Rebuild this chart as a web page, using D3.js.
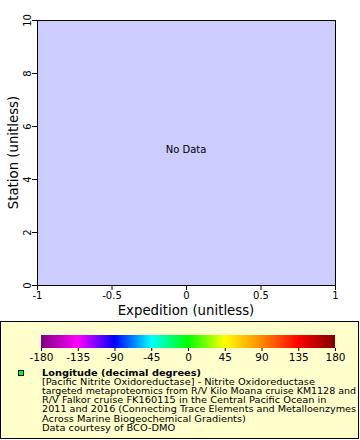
<!DOCTYPE html>
<html><head><meta charset="utf-8">
<script src="https://cdn.jsdelivr.net/npm/d3@7"></script>
<style>body{margin:0;background:#fff}svg{display:block;font-family:"DejaVu Sans",sans-serif}</style>
</head><body><div id="c"></div>
<script>
const xDomain = [-1, 1];
const yDomain = [0, 10];
const xTicks = [-1, -0.5, 0, 0.5, 1];
const yTicks = [0, 2, 4, 6, 8, 10];
const colorTicks = [-180, -135, -90, -45, 0, 45, 90, 135, 180];
const colorStops = ["#800080", "#ff00ff", "#0000ff", "#00ffff", "#00ff00", "#ffff00", "#ff8800", "#ff0000", "#800000"];
const legendTitle = "Longitude (decimal degrees)";
const legendLines = [
  "[Pacific Nitrite Oxidoreductase] - Nitrite Oxidoreductase",
  "targeted metaproteomics from R/V Kilo Moana cruise KM1128 and",
  "R/V Falkor cruise FK160115 in the Central Pacific Ocean in",
  "2011 and 2016 (Connecting Trace Elements and Metalloenzymes",
  "Across Marine Biogeochemical Gradients)",
  "Data courtesy of BCO-DMO"
];

const W = 360, H = 440;
const svg = d3.select("#c").append("svg").attr("width", W).attr("height", H);
const m = {l: 37, r: 335, t: 20, b: 285};
const x = d3.scaleLinear().domain(xDomain).range([m.l, m.r]);
const y = d3.scaleLinear().domain(yDomain).range([m.b, m.t]);
const fmt = d => String(d);

svg.append("rect").attr("x", m.l).attr("y", m.t).attr("width", m.r - m.l).attr("height", m.b - m.t)
  .attr("fill", "#ccccff");

// x axis
const gx = svg.append("g").attr("transform", `translate(0,${m.b})`);
gx.call(d3.axisBottom(x).tickValues(d3.range(-10, 11).map(d => d / 10)).tickSize(3).tickFormat(""))
  .call(g => g.select(".domain").remove());
gx.call(d3.axisBottom(x).tickValues(xTicks).tickSize(5).tickSizeOuter(0).tickFormat(fmt))
  .call(g => g.selectAll("text").attr("font-size", 10).attr("dy", "0.6em").attr("fill", "#000").attr("font-family", "DejaVu Sans"));
gx.selectAll("line,path").attr("stroke", "#000");

// y axis
const gy = svg.append("g").attr("transform", `translate(${m.l},0)`);
gy.call(d3.axisLeft(y).tickValues(d3.range(0, 11)).tickSize(3).tickFormat(""))
  .call(g => g.select(".domain").remove());
gy.call(d3.axisLeft(y).tickValues(yTicks).tickSize(5).tickSizeOuter(0).tickFormat(fmt))
  .call(g => g.selectAll("text").attr("font-size", 10).attr("fill", "#000").attr("font-family", "DejaVu Sans")
    .attr("x", null).attr("dy", null).attr("text-anchor", "middle")
    .attr("transform", "translate(-6,0) rotate(-90)"));
gy.selectAll("line,path").attr("stroke", "#000");

// top/right border lines
svg.append("line").attr("x1", m.l).attr("x2", m.r).attr("y1", m.t + 0.5).attr("y2", m.t + 0.5).attr("stroke", "#000");
svg.append("line").attr("x1", m.r + 0.5).attr("x2", m.r + 0.5).attr("y1", m.t).attr("y2", m.b).attr("stroke", "#000");

svg.append("text").attr("x", (m.l + m.r) / 2).attr("y", 153).attr("text-anchor", "middle")
  .attr("font-size", 10).text("No Data");

svg.append("text").attr("x", (m.l + m.r) / 2).attr("y", 315).attr("text-anchor", "middle")
  .attr("font-size", 13.3).text("Expedition (unitless)");
svg.append("text").attr("transform", `translate(18,${(m.t + m.b) / 2}) rotate(-90)`).attr("text-anchor", "middle")
  .attr("font-size", 13.3).text("Station (unitless)");

// legend box
svg.append("rect").attr("x", 0.5).attr("y", 321.5).attr("width", 358).attr("height", 117)
  .attr("fill", "#ffffcc").attr("stroke", "#000");

// colorbar
const c = d3.scaleLinear().domain([-180, 180]).range([41, 335]);
const defs = svg.append("defs");
const grad = defs.append("linearGradient").attr("id", "cb");
colorStops.forEach((col, i) => grad.append("stop").attr("offset", (i / (colorStops.length - 1) * 100) + "%").attr("stop-color", col));
svg.append("rect").attr("x", c(-180)).attr("y", 335).attr("width", c(180) - c(-180)).attr("height", 13).attr("fill", "url(#cb)");
const gc = svg.append("g").attr("transform", "translate(0,348)");
gc.call(d3.axisBottom(c).tickValues(colorTicks).tickSize(3).tickSizeOuter(0).tickFormat(fmt))
  .call(g => g.select(".domain").remove())
  .call(g => g.selectAll("text").attr("font-size", 10.5).attr("fill", "#000").attr("font-family", "DejaVu Sans").attr("y", 6).attr("dy", "0.71em"));
gc.selectAll("line").attr("stroke", "#000");

// legend entry
const fs = 8.6, lh = 9.2, stretch = 9.8 / 8.6, maxW = 314;
svg.append("rect").attr("x", 18.5).attr("y", 370.5).attr("width", 5).attr("height", 5).attr("fill", "#00ff00").attr("stroke", "#000");
function legText(t, yy, bold) {
  const el = svg.append("text").attr("x", 42).attr("y", yy).attr("font-size", fs)
    .attr("font-weight", bold ? "bold" : null).text(t);
  const w = el.node().getComputedTextLength();
  const target = Math.min(w * stretch, maxW);
  el.attr("textLength", target).attr("lengthAdjust", "spacingAndGlyphs");
}
legText(legendTitle, 375.5, true);
legendLines.forEach((t, i) => legText(t, 375.5 + lh * (i + 1), false));
</script>
</body></html>
